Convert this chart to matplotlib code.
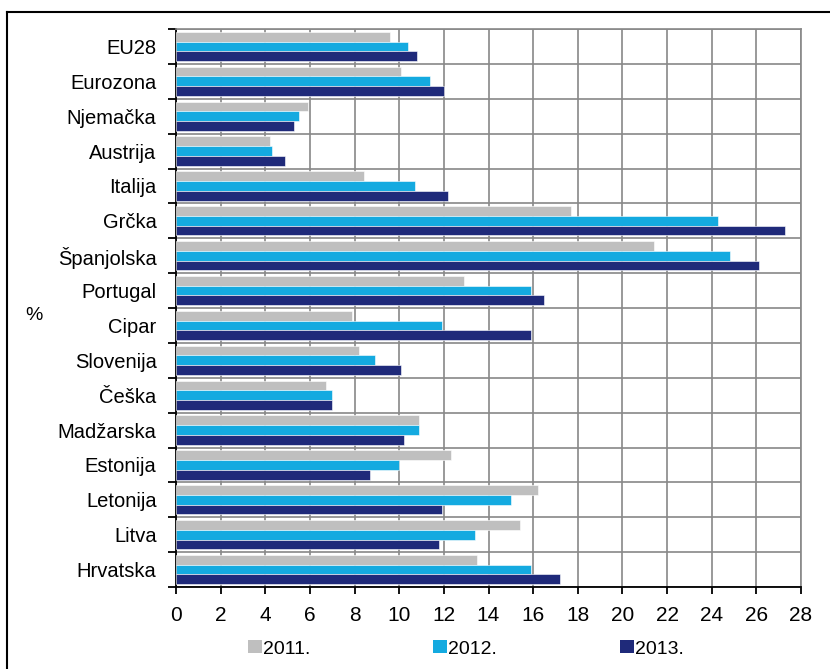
import matplotlib
matplotlib.use("Agg")
import matplotlib.pyplot as plt
from matplotlib.lines import Line2D
from matplotlib.patches import Patch
import numpy as np

plt.rcParams['font.family'] = ['Liberation Sans', 'DejaVu Sans']

countries = ['EU28', 'Eurozona', 'Njemačka', 'Austrija', 'Italija', 'Grčka',
             'Španjolska', 'Portugal', 'Cipar', 'Slovenija', 'Češka',
             'Madžarska', 'Estonija', 'Letonija', 'Litva', 'Hrvatska']
y2011 = [9.6, 10.1, 5.9, 4.2, 8.4, 17.7, 21.4, 12.9, 7.9, 8.2, 6.7, 10.9, 12.3, 16.2, 15.4, 13.5]
y2012 = [10.4, 11.4, 5.5, 4.3, 10.7, 24.3, 24.8, 15.9, 11.9, 8.9, 7.0, 10.9, 10.0, 15.0, 13.4, 15.9]
y2013 = [10.8, 12.0, 5.3, 4.9, 12.2, 27.3, 26.1, 16.5, 15.9, 10.1, 7.0, 10.2, 8.7, 11.9, 11.8, 17.2]
years = ['2011.', '2012.', '2013.']
colors = ['#BFBFBF', '#14AAE0', '#1F2A7A']
xticks = list(range(0, 29, 2))

fig = plt.figure(figsize=(8.3, 6.69), dpi=100)
ax = fig.add_axes([176/830, 1 - 587/669, (801 - 176)/830, (587 - 29)/669])

n = len(countries)
pos = np.arange(n)
h = 0.28
for k, vals in enumerate([y2011, y2012, y2013]):
    ax.barh(pos + (k - 1) * h, vals, height=h, color=colors[k],
            edgecolor='white', linewidth=0.4, zorder=3)

ax.set_ylim(n - 0.5, -0.5)
ax.set_xlim(0, 28)
ax.set_xticks(xticks)
ax.set_xticklabels([str(t) for t in xticks], fontsize=15)
ax.set_yticks(pos)
ax.set_yticklabels(countries, fontsize=14.5)
ax.set_yticks(np.arange(n + 1) - 0.5, minor=True)

ax.tick_params(axis='y', which='major', length=0, pad=14)
ax.tick_params(axis='y', which='minor', length=6, width=1.3, direction='out', color='black')
ax.tick_params(axis='x', length=5, width=1.3, direction='out', pad=9, color='black')

ax.grid(True, axis='x', which='major', color='#888888', linewidth=1.2, zorder=0)
ax.grid(True, axis='y', which='minor', color='#888888', linewidth=1.2, zorder=0)
ax.set_axisbelow(True)

for s in ['top', 'right']:
    ax.spines[s].set_color('#888888')
    ax.spines[s].set_linewidth(1.2)
for s in ['left', 'bottom']:
    ax.spines[s].set_color('black')
    ax.spines[s].set_linewidth(1.3)

fig.text(34/830, 1 - 316/669, '%', fontsize=14, ha='center', va='center')

handles = [Patch(facecolor=c, edgecolor='none') for c in colors]
fig.legend(handles, years, loc='center', bbox_to_anchor=(466/830, 1 - 649/669),
           ncol=3, frameon=False, fontsize=14, handlelength=0.72,
           handleheight=0.62, handletextpad=0.05, columnspacing=6.3)

# outer frame (top and left edges visible)
fig.add_artist(Line2D([7/830, 1.0], [1 - 12/669, 1 - 12/669], color='black', linewidth=1.5,
                      transform=fig.transFigure))
fig.add_artist(Line2D([7/830, 7/830], [0, 1 - 12/669], color='black', linewidth=1.5,
                      transform=fig.transFigure))

fig.savefig('out.png', dpi=100)
